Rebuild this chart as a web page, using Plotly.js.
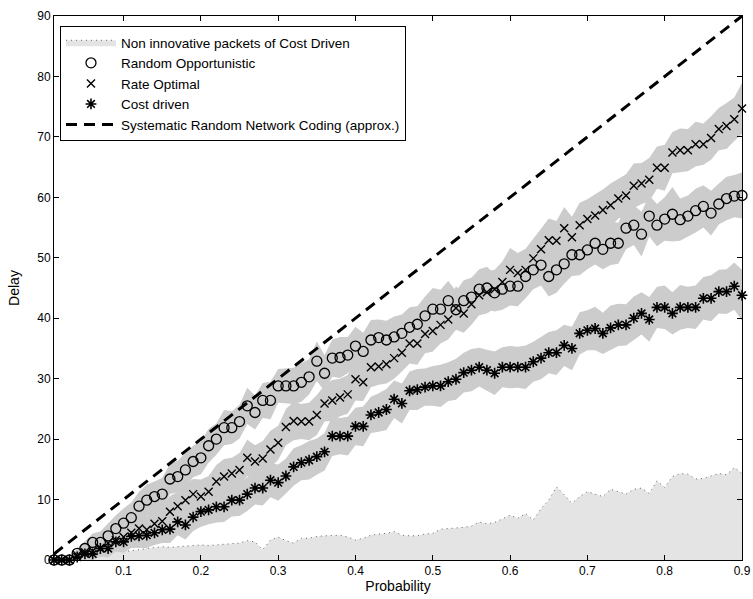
<!DOCTYPE html>
<html>
<head>
<meta charset="utf-8">
<script src="https://cdn.plot.ly/plotly-3.0.1.min.js"></script>
<style>html,body{margin:0;padding:0;background:#fff;}#chart{width:753px;height:599px;}</style>
</head>
<body>
<div id="chart"></div>
<script>
var prob = [0.01,0.02,0.03,0.04,0.05,0.06,0.07,0.08,0.09,0.10,
  0.11,0.12,0.13,0.14,0.15,0.16,0.17,0.18,0.19,0.20,
  0.21,0.22,0.23,0.24,0.25,0.26,0.27,0.28,0.29,0.30,
  0.31,0.32,0.33,0.34,0.35,0.36,0.37,0.38,0.39,0.40,
  0.41,0.42,0.43,0.44,0.45,0.46,0.47,0.48,0.49,0.50,
  0.51,0.52,0.53,0.54,0.55,0.56,0.57,0.58,0.59,0.60,
  0.61,0.62,0.63,0.64,0.65,0.66,0.67,0.68,0.69,0.70,
  0.71,0.72,0.73,0.74,0.75,0.76,0.77,0.78,0.79,0.80,
  0.81,0.82,0.83,0.84,0.85,0.86,0.87,0.88,0.89,0.90];

var randomOpp = [0,0,0,1.1,1.9,2.9,2.9,4.0,5.2,6.1,
  7.0,8.9,9.9,10.5,10.9,13.4,13.8,14.9,16.3,16.9,
  18.9,20.0,21.9,21.9,22.9,25.5,24.4,26.4,26.4,28.8,
  28.8,28.8,29.4,30.3,32.9,30.9,33.4,33.5,33.9,35.4,
  34.5,36.4,36.8,36.4,36.9,37.5,38.5,39.0,40.4,41.5,
  41.5,42.9,41.4,42.9,43.5,44.8,45.0,44.2,44.8,45.3,
  45.3,46.9,48.0,48.8,46.9,48.0,49.0,50.5,50.5,51.3,
  52.4,51.4,52.4,52.4,54.9,55.4,53.9,56.9,55.4,56.4,
  57.2,56.3,56.9,57.8,58.5,57.4,58.9,59.8,60.2,60.3];

var rateOpt = [0,0,0,0.8,1.3,1.5,2.0,2.8,3.3,3.8,
  4.5,5.2,5.0,6.0,6.4,8.0,8.9,9.9,10.9,10.5,
  11.3,13.0,13.8,14.3,14.9,16.9,16.3,16.8,18.3,19.4,
  22.0,23.0,22.9,22.9,24.0,25.9,26.4,26.9,27.4,29.9,
  29.4,31.9,32.0,32.4,33.4,34.3,35.8,35.8,37.4,37.9,
  38.9,39.8,41.7,40.8,42.3,43.8,44.3,44.8,46.0,48.0,
  47.5,48.0,49.9,51.4,52.9,52.8,54.9,53.4,55.4,56.4,
  57.0,57.9,58.7,59.8,60.3,61.9,62.3,62.9,64.9,64.9,
  67.4,67.8,67.8,68.8,68.8,69.8,71.3,71.8,72.9,74.7];

var costDriven = [0,0,0,0.5,1.0,1.0,1.9,1.9,3.0,3.0,
  3.9,4.0,4.1,4.5,5.0,5.1,6.3,5.8,7.1,8.0,
  8.3,8.8,8.8,9.9,9.9,10.9,11.9,11.9,13.2,12.8,
  13.9,15.4,16.1,16.5,17.1,17.9,20.5,20.5,20.5,22.1,
  22.1,24.0,24.4,24.9,26.6,25.9,28.0,28.2,28.6,28.8,
  28.8,29.5,29.9,31.0,31.4,31.9,31.4,30.9,31.9,31.9,
  31.9,31.9,32.8,33.4,34.3,34.3,35.5,35.0,37.5,38.0,
  38.3,37.5,38.4,38.9,38.9,40.0,40.8,39.8,41.8,41.8,
  40.8,41.8,41.8,41.8,43.3,43.3,44.4,44.4,45.3,43.8];

var nonInnovative = [0,0.2,0.3,0.5,0.8,1.2,1.4,1.3,1.5,1.4,
  1.5,1.7,1.9,2.0,2.2,2.1,2.2,2.2,2.4,2.5,
  2.4,2.5,2.6,2.8,2.8,3.2,3.0,1.7,3.3,3.8,
  3.2,2.8,3.6,3.6,3.9,4.0,4.1,4.1,3.8,3.3,
  3.6,4.1,4.3,4.4,4.7,4.1,4.0,4.0,4.3,4.4,
  5.1,5.2,5.2,5.4,5.6,6.3,6.0,6.2,6.8,7.4,
  6.9,7.7,6.6,8.5,9.9,12.1,10.8,9.4,10.5,11.3,
  10.9,10.5,11.7,11.3,10.9,11.7,11.9,11.0,13.1,12.0,
  13.8,14.3,14.2,13.4,13.5,13.9,14.3,14.1,15.3,14.3];

// half-widths of the grey variability bands read around each series
var spreadRandomOpp = [0,0,0.3,0.8,1.2,1.5,1.8,2.0,2.2,2.4,
  2.5,2.4,2.6,2.5,2.7,2.5,2.6,2.8,2.6,2.7,
  2.8,2.6,2.9,2.7,2.8,3.0,2.8,2.9,3.1,2.8,
  2.9,3.0,3.2,2.9,3.3,3.0,3.1,3.4,3.0,3.2,
  3.1,3.3,3.0,3.2,3.4,3.1,3.3,3.0,3.2,3.5,
  3.2,3.3,3.1,3.4,3.2,3.3,3.5,3.1,3.4,3.2,
  3.3,3.6,3.2,3.4,3.3,3.8,3.3,3.5,3.4,3.2,
  3.5,3.3,3.6,3.4,3.5,3.3,3.7,3.4,3.5,3.6,
  4.5,3.5,3.4,3.6,3.5,3.7,3.4,3.6,3.5,3.8];
var spreadRateOpt = [0,0,0.3,0.7,1.0,1.3,1.5,1.7,1.9,2.0,
  2.1,2.3,2.2,2.4,2.5,2.6,2.4,2.7,2.5,2.8,
  2.6,2.7,2.9,2.6,2.8,3.0,2.7,2.9,3.1,2.8,
  3.0,3.2,2.9,3.1,3.3,3.0,3.4,3.1,3.2,3.5,
  3.1,3.3,3.0,3.2,3.4,3.1,3.3,3.5,3.2,3.4,
  3.1,3.3,3.6,3.2,3.4,3.3,3.5,3.2,3.4,3.6,
  3.3,3.5,3.2,3.4,3.6,3.3,3.5,3.4,3.7,3.3,
  3.5,3.4,3.6,3.3,3.5,3.7,3.4,3.6,3.5,3.8,
  3.4,3.6,3.5,3.7,3.4,3.6,3.5,3.8,3.6,4.2];
var spreadCostDriven = [0,0,0.3,0.6,0.9,1.1,1.3,1.5,1.6,1.8,
  1.9,2.0,2.1,2.0,2.2,2.3,2.2,2.4,2.3,2.5,
  2.4,2.6,2.5,2.7,2.6,2.8,2.7,2.9,2.8,3.0,
  2.9,3.1,2.9,3.2,3.0,3.1,3.3,3.0,3.2,3.1,
  3.3,3.0,3.2,3.4,3.1,3.3,3.2,3.4,3.1,3.3,
  3.5,3.2,3.4,3.3,3.5,3.2,3.4,3.6,3.3,3.5,
  3.4,3.6,3.3,3.5,3.4,3.7,3.4,3.6,3.5,3.3,
  3.6,3.4,3.7,3.5,3.4,3.6,3.5,3.7,3.4,3.6,
  3.5,3.7,3.4,3.6,3.5,3.8,3.6,3.7,3.9,4.2];

var systematicX = [0.01, 0.90];
var systematicY = [1, 90];

var xTicks = [0.1,0.2,0.3,0.4,0.5,0.6,0.7,0.8,0.9];
var xTickText = ['0.1','0.2','0.3','0.4','0.5','0.6','0.7','0.8','0.9'];
var yTicks = [0,10,20,30,40,50,60,70,80,90];

var seriesNames = ['Non innovative packets of Cost Driven','Random Opportunistic','Rate Optimal','Cost driven','Systematic Random Network Coding (approx.)'];

function band(vals, spread) {
  var xs = [], ys = [];
  for (var i = 0; i < prob.length; i++) { xs.push(prob[i]); ys.push(vals[i] + spread[i]); }
  for (var j = prob.length - 1; j >= 0; j--) { xs.push(prob[j]); ys.push(Math.max(0, vals[j] - spread[j])); }
  return {x: xs, y: ys, type: 'scatter', mode: 'lines', fill: 'toself', fillcolor: '#cccccc',
    line: {width: 0, color: '#cccccc'}, showlegend: false, hoverinfo: 'skip'};
}

var FONT = 'Liberation Sans, Arial, Helvetica, sans-serif';

var traces = [
  {x: prob, y: nonInnovative, type: 'scatter', mode: 'lines', fill: 'tozeroy', fillcolor: '#e4e4e4',
   line: {color: '#666666', width: 1, dash: '1px,4px'}, name: seriesNames[0]},
  band(randomOpp, spreadRandomOpp),
  band(rateOpt, spreadRateOpt),
  band(costDriven, spreadCostDriven),
  {x: prob, y: randomOpp, type: 'scatter', mode: 'markers', name: seriesNames[1], cliponaxis: false,
   marker: {symbol: 'circle-open', size: 10, color: '#000', line: {width: 1.3, color: '#000'}}},
  {x: prob, y: rateOpt, type: 'scatter', mode: 'markers', name: seriesNames[2], cliponaxis: false,
   marker: {symbol: 'x-thin-open', size: 8, color: '#000', line: {width: 1.4, color: '#000'}}},
  {x: prob, y: costDriven, type: 'scatter', mode: 'markers', name: seriesNames[3], cliponaxis: false,
   marker: {symbol: 'asterisk-open', size: 9, color: '#000', line: {width: 1.6, color: '#000'}}},
  {x: systematicX, y: systematicY, type: 'scatter', mode: 'lines', name: seriesNames[4],
   line: {color: '#000', width: 3, dash: '11px,7px'}}
];

var layout = {
  width: 753, height: 599,
  margin: {l: 54, r: 11, t: 16, b: 39},
  paper_bgcolor: '#fff', plot_bgcolor: '#fff',
  font: {family: FONT, size: 12, color: '#000'},
  showlegend: true,
  legend: {x: 0.0087, y: 0.9816, xanchor: 'left', yanchor: 'top', bgcolor: '#fff',
    bordercolor: '#000', borderwidth: 1, font: {family: FONT, size: 13.5, color: '#000'},
    itemwidth: 50, tracegroupgap: 0},
  xaxis: {range: [0.01, 0.9], tickvals: xTicks, ticktext: xTickText, ticks: 'inside', ticklen: 5,
    tickcolor: '#000', showline: true, linecolor: '#000', linewidth: 1, mirror: 'ticks',
    showgrid: false, zeroline: false, tickfont: {size: 12},
    title: {text: 'Probability', font: {size: 14}, standoff: 3}},
  yaxis: {range: [0, 90], tickvals: yTicks, ticks: 'inside', ticklen: 5,
    tickcolor: '#000', showline: true, linecolor: '#000', linewidth: 1, mirror: 'ticks',
    showgrid: false, zeroline: false, tickfont: {size: 12},
    title: {text: 'Delay', font: {size: 14}, standoff: 14}}
};

Plotly.newPlot('chart', traces, layout, {displayModeBar: false, staticPlot: true});
</script>
</body>
</html>
